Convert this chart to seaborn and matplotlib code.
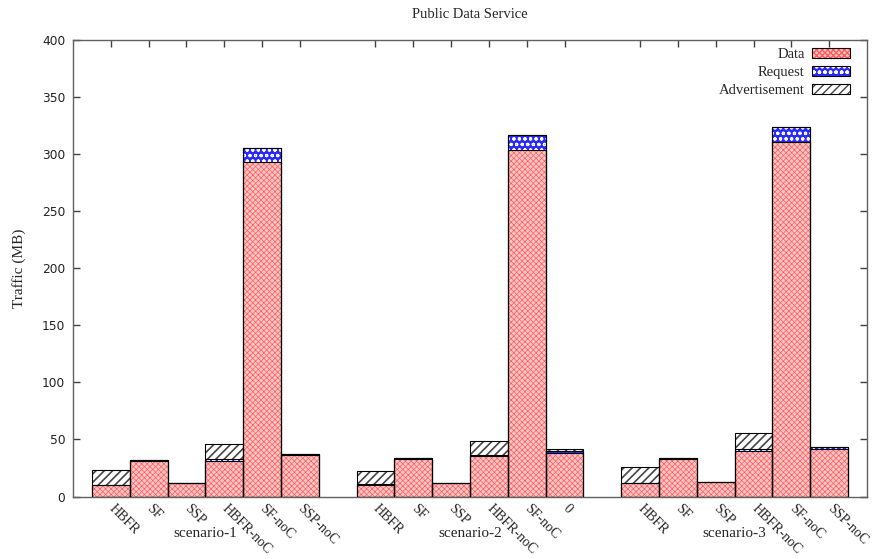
import matplotlib
matplotlib.use("Agg")
import matplotlib.pyplot as plt
import pandas as pd
import seaborn as sns
from matplotlib.patches import Patch
from matplotlib.legend_handler import HandlerTuple

# Values (MB) per scenario, one entry per method
scenarios = ["scenario-1", "scenario-2", "scenario-3"]
tick_labels = [
    ["HBFR", "SF", "SSP", "HBFR-noC", "SF-noC", "SSP-noC"],
    ["HBFR", "SF", "SSP", "HBFR-noC", "SF-noC", "0"],
    ["HBFR", "SF", "SSP", "HBFR-noC", "SF-noC", "SSP-noC"],
]
data_mb = [
    [10.0, 31.0, 11.5, 31.5, 293.0, 36.3],
    [10.5, 32.6, 11.5, 35.5, 304.0, 38.5],
    [11.5, 33.0, 12.8, 40.0, 311.0, 42.0],
]
request_mb = [
    [0.2, 1.2, 0.0, 1.0, 12.0, 1.2],
    [0.2, 1.0, 0.0, 1.2, 12.5, 1.0],
    [0.2, 1.0, 0.0, 1.3, 12.5, 1.2],
]
advert_mb = [
    [12.8, 0.0, 0.0, 13.2, 0.0, 0.0],
    [12.0, 0.0, 0.0, 12.3, 0.0, 2.3],
    [14.0, 0.0, 0.0, 14.6, 0.0, 0.0],
]

sns.set_theme(style="white")
plt.rcParams["font.family"] = ["Liberation Serif", "DejaVu Serif"]

rows = []
for g, scen in enumerate(scenarios):
    for i, lab in enumerate(tick_labels[g]):
        rows.append(dict(pos=g * 7 + i, scenario=scen, label=lab,
                         data=data_mb[g][i], request=request_mb[g][i],
                         advert=advert_mb[g][i]))
df = pd.DataFrame(rows)
df["data_req"] = df["data"] + df["request"]
df["total"] = df["data_req"] + df["advert"]

fig = plt.figure(figsize=(8.73, 5.59), dpi=100)
ax = fig.add_axes([73 / 873, 1 - 496.5 / 559, 794 / 873, 456.5 / 559])

# (column, face colour, pattern colour, pattern, pattern line width, legend label)
layers = [
    ("total", "white", "#454545", "////", 1.2, "Advertisement"),
    ("data_req", "#2a2aff", "white", "ooo", 0.8, "Request"),
    ("data", "#ffc6c6", "#ff5c5c", "xxxxxx", 0.5, "Data"),
]

handles = {}
for col, face, hcol, hatch, hlw, name in layers:
    with plt.rc_context({"hatch.linewidth": hlw}):
        sns.barplot(data=df, x="pos", y=col, native_scale=True, width=1,
                    errorbar=None, facecolor=face, edgecolor=hcol,
                    hatch=hatch, linewidth=0, ax=ax)
        handles[name] = (Patch(facecolor=face, edgecolor=hcol, hatch=hatch, linewidth=0),
                         Patch(facecolor="none", edgecolor="black", linewidth=0.8))

# black outlines around every stacked segment
for col in ["total", "data_req", "data"]:
    sns.barplot(data=df, x="pos", y=col, native_scale=True, width=1,
                errorbar=None, fill=False, color="black", linewidth=0.8, ax=ax)

ax.set_xlim(-1, 20)
ax.set_ylim(0, 400)
ax.set_yticks(range(0, 401, 50))
ax.set_xlabel("")
ax.set_ylabel("Traffic (MB)", fontsize=11)
ax.yaxis.set_label_coords(-0.059, 0.5)

ax.set_xticks(df["pos"])
ax.set_xticklabels(df["label"], rotation=-45, ha="left", va="center",
                   rotation_mode="anchor", fontsize=10)
ax.tick_params(axis="x", top=True, bottom=False, direction="in", length=5,
               width=1, color="#404040", labelbottom=True, pad=7)
ax.tick_params(axis="y", left=True, right=True, direction="in", length=5,
               width=1, color="#404040", labelsize=8.8, pad=5.5)
for lab in ax.get_yticklabels():
    lab.set_fontfamily("DejaVu Sans")
    lab.set_color("#222222")

for s in ax.spines.values():
    s.set_color("#606060")
    s.set_linewidth(1)

for g, scen in enumerate(scenarios):
    center = df.loc[df["scenario"] == scen, "pos"].mean()
    ax.text(center, -0.08, scen, transform=ax.get_xaxis_transform(),
            ha="center", va="center", fontsize=11)

order = ["Data", "Request", "Advertisement"]
ax.legend([handles[k] for k in order], order, loc="upper right",
          bbox_to_anchor=(0.986, 0.995), frameon=False, markerfirst=False,
          handlelength=2.6, handleheight=0.7, fontsize=10.5,
          labelspacing=0.33, handletextpad=0.5, borderaxespad=0.0,
          handler_map={tuple: HandlerTuple(ndivide=1)})

fig.text(470 / 873, 1 - 15 / 559, "Public Data Service", ha="center",
         va="center", fontsize=10.5)

fig.savefig("out.png", dpi=100)
